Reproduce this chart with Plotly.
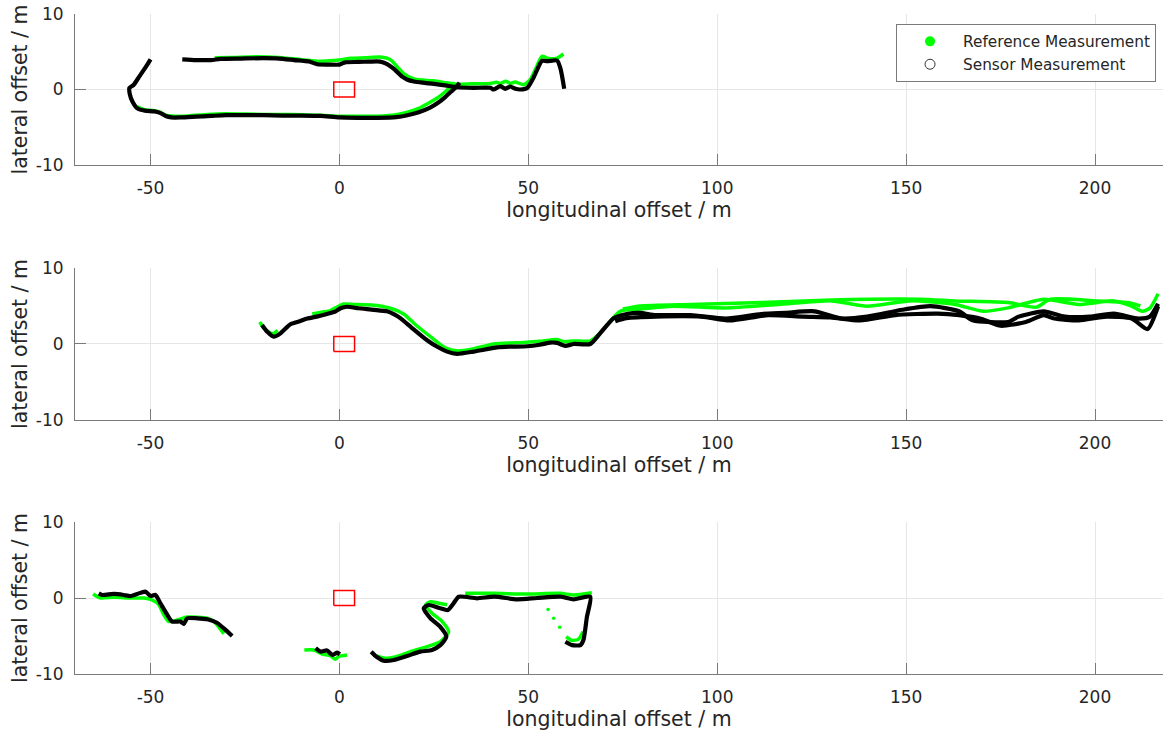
import plotly.graph_objects as go

# ---------------------------------------------------------------------------
# Track data: (longitudinal offset, lateral offset) in metres
# ---------------------------------------------------------------------------

# Panel 1
P1_SENSOR_LOWER = [(-50.0, 4.0), (-51.5, 2.8), (-53.0, 1.7), (-54.5, 0.6), (-55.6, 0.2), (-55.5, -0.6),
                   (-54.8, -1.6), (-53.5, -2.5), (-51.5, -2.8), (-49.0, -2.9), (-47.5, -3.1), (-46.0, -3.5),
                   (-44.5, -3.7), (-42.0, -3.7), (-38.0, -3.6), (-34.0, -3.5), (-30.0, -3.4), (-25.0, -3.4),
                   (-20.0, -3.4), (-15.0, -3.45), (-10.0, -3.45), (-5.0, -3.5), (0.0, -3.7), (5.0, -3.75),
                   (10.0, -3.75), (15.0, -3.65), (18.0, -3.4), (21.0, -3.0), (24.0, -2.4), (26.0, -1.8),
                   (28.0, -1.0), (29.5, -0.3), (31.0, 0.4), (31.8, 0.9)]
P1_SENSOR_UPPER = [(-41.6, 4.0), (-38.0, 3.9), (-34.0, 3.9), (-31.5, 4.05), (-26.0, 4.1), (-20.0, 4.15),
                   (-16.0, 4.1), (-12.0, 3.9), (-8.0, 3.7), (-5.9, 3.35), (-3.0, 3.3), (0.0, 3.3), (1.5, 3.6),
                   (5.0, 3.65), (8.0, 3.7), (10.8, 3.7), (12.5, 3.4), (14.5, 2.7), (16.6, 1.7), (18.0, 1.3),
                   (19.7, 1.06), (22.0, 0.9), (25.0, 0.75), (28.0, 0.55), (31.1, 0.3), (35.5, 0.22),
                   (40.0, 0.22), (40.8, 0.0), (42.6, 0.44), (43.9, 0.09), (45.2, 0.4), (46.6, 0.09),
                   (47.9, 0.0), (49.7, 0.2), (51.4, 1.6), (53.6, 3.8), (55.0, 3.75), (57.6, 3.85),
                   (58.5, 2.8), (59.5, 0.1)]
P1_REF_LOWER = [(-53.5, -2.3), (-51.5, -2.7), (-49.0, -2.8), (-47.5, -3.0), (-46.0, -3.4), (-44.5, -3.5),
                (-40.0, -3.5), (-35.0, -3.3), (-30.0, -3.2), (-25.0, -3.25), (-20.0, -3.3), (-15.0, -3.3),
                (-10.0, -3.35), (-5.0, -3.4), (0.0, -3.55), (5.0, -3.55), (10.0, -3.55), (15.0, -3.35),
                (18.0, -3.0), (21.0, -2.5), (24.0, -1.7), (26.0, -1.1), (28.0, -0.3), (29.5, 0.4),
                (30.5, 0.9)]
P1_REF_UPPER = [(-33.0, 4.2), (-28.0, 4.25), (-22.0, 4.35), (-16.0, 4.25), (-10.0, 3.95), (-5.0, 3.75),
                (0.0, 3.9), (3.0, 4.15), (7.0, 4.2), (10.8, 4.3), (13.5, 3.95), (15.5, 2.9), (17.0, 2.1),
                (19.7, 1.4), (22.0, 1.25), (25.0, 1.15), (28.0, 0.9), (31.1, 0.7), (35.0, 0.75),
                (40.0, 0.8), (41.5, 0.95), (42.6, 0.8), (44.0, 1.1), (45.3, 0.8), (46.5, 1.0),
                (48.8, 0.62), (50.5, 1.3), (52.0, 2.8), (53.6, 4.4), (55.4, 4.1), (57.6, 4.15),
                (59.3, 4.7)]

# Panel 2
P2_SENSOR_OUT = [(-20.5, 2.5), (-19.1, 1.6), (-17.4, 0.96), (-15.6, 1.4), (-13.0, 2.6), (-10.5, 3.0),
                 (-8.5, 3.35), (-6.0, 3.6), (-3.3, 3.95), (-1.0, 4.3), (0.3, 4.7), (2.0, 4.9), (5.0, 4.7),
                 (9.1, 4.5), (12.6, 4.3), (14.5, 3.9), (16.1, 3.4), (19.0, 2.2), (23.2, 0.5), (26.0, -0.4),
                 (28.5, -1.0), (31.1, -1.3), (35.5, -1.0), (41.7, -0.45), (45.0, -0.35), (49.7, -0.3),
                 (53.0, -0.1), (55.8, 0.18), (57.6, 0.15), (59.8, -0.25), (62.0, 0.0), (66.4, 0.0),
                 (69.0, 1.4), (72.6, 3.4), (76.1, 3.95), (79.6, 4.1), (83.7, 3.8), (93.0, 3.8),
                 (102.3, 3.35), (111.6, 3.95), (118.0, 4.1), (125.7, 4.3), (133.1, 3.35), (139.7, 3.6),
                 (149.0, 4.5), (156.5, 4.97), (164.0, 4.3), (167.6, 3.12), (177.0, 2.9), (179.8, 3.6),
                 (186.4, 4.3), (192.0, 3.6), (198.6, 3.6), (205.0, 4.0), (211.5, 3.35), (214.5, 3.6),
                 (216.7, 5.3)]
P2_SENSOR_BACK = [(216.7, 4.97), (213.9, 1.96), (209.7, 3.35), (203.0, 3.6), (195.7, 3.1), (189.2, 3.35),
                  (186.4, 3.8), (181.7, 2.9), (175.0, 2.4), (170.0, 3.3), (164.0, 3.8), (158.3, 4.0),
                  (147.1, 3.8), (137.8, 3.1), (130.0, 3.5), (122.8, 3.6), (113.5, 3.8), (103.3, 3.1),
                  (95.9, 3.6), (83.7, 3.6), (76.0, 3.4), (73.0, 3.0)]
P2_REF_START = [(-21.1, 2.9), (-20.0, 2.1), (-18.5, 1.5), (-17.4, 1.4), (-16.4, 1.8)]
P2_REF_OUT = [(-7.2, 3.95), (-4.5, 4.2), (-2.4, 4.4), (-0.5, 4.9), (1.1, 5.25), (4.0, 5.2), (9.1, 5.1),
              (13.5, 4.7), (17.0, 3.95), (20.0, 2.6), (24.1, 0.96), (28.0, -0.5), (31.1, -0.9),
              (35.0, -0.7), (40.8, 0.0), (48.8, 0.2), (53.0, 0.35), (57.6, 0.6), (59.4, 0.3), (62.0, 0.4),
              (66.4, 0.4), (68.5, 1.2), (70.8, 2.5), (74.3, 4.3), (79.6, 4.6), (88.3, 4.97),
              (102.3, 4.75), (116.3, 5.2), (130.3, 5.67), (139.7, 4.97), (150.9, 5.67), (163.0, 5.2),
              (170.5, 4.3), (177.0, 4.75), (186.4, 5.9), (195.7, 5.2), (205.0, 5.67), (209.7, 4.97),
              (212.5, 4.3), (214.6, 4.75), (216.7, 6.6)]
P2_REF_BACK = [(212.0, 5.0), (208.8, 5.45), (200.4, 5.67), (188.2, 5.9), (184.5, 4.85), (177.0, 5.45),
               (163.0, 5.67), (153.7, 5.9), (130.3, 5.8), (111.6, 5.45), (93.0, 5.2), (79.6, 5.0),
               (75.0, 4.6)]

# Panel 3
P3_SENSOR_A = [(-63.7, 0.6), (-62.8, 0.4), (-59.7, 0.53), (-57.1, 0.4), (-55.3, 0.26), (-52.6, 0.7),
               (-51.3, 0.83), (-50.0, 0.26), (-48.7, 0.4), (-47.4, -0.7), (-45.6, -2.2), (-44.3, -3.1),
               (-42.1, -3.1), (-41.2, -3.4), (-40.3, -2.67), (-37.6, -2.67), (-35.0, -2.8),
               (-32.4, -3.25), (-30.6, -4.0), (-28.4, -5.0)]
P3_SENSOR_B = [(-6.3, -6.6), (-5.0, -7.06), (-3.3, -6.9), (-1.9, -7.5), (-0.6, -7.2), (0.1, -7.4)]
P3_SENSOR_C = [(8.4, -7.06), (10.0, -7.8), (11.7, -8.25), (14.4, -8.16), (17.9, -7.63), (21.4, -7.06),
               (24.5, -6.84), (26.7, -6.2), (28.3, -5.1), (26.7, -3.8), (24.1, -2.67), (22.3, -1.36),
               (23.6, -0.92), (26.7, -1.36), (28.7, -1.58), (30.2, -0.7), (31.6, 0.17), (36.4, -0.04),
               (41.0, 0.17), (47.0, -0.17), (52.3, 0.0), (58.5, 0.17), (62.0, -0.17), (66.4, 0.17),
               (65.5, -2.5), (64.6, -5.5), (63.8, -6.2), (61.6, -6.2), (59.8, -5.75)]
P3_REF_A = [(-65.2, 0.53), (-63.3, 0.0), (-59.7, 0.1), (-55.3, 0.0), (-51.8, 0.0), (-49.6, -0.26),
            (-47.8, -0.9), (-46.5, -2.2), (-45.2, -3.1), (-42.9, -2.9), (-40.3, -2.5), (-35.0, -2.67),
            (-33.2, -3.1), (-30.6, -4.7)]
P3_REF_B = [(-9.3, -6.84), (-6.8, -6.84), (-4.6, -7.37), (-2.4, -7.6), (-1.1, -8.07), (-0.2, -7.7),
            (2.0, -7.5)]
P3_REF_C = [(9.0, -7.5), (11.7, -7.9), (14.4, -7.8), (18.8, -7.06), (23.2, -6.4), (26.7, -5.75),
            (28.9, -4.43), (27.2, -3.1), (24.5, -2.0), (22.8, -0.92), (24.1, -0.48), (26.3, -0.7),
            (28.5, -0.9)]
P3_REF_D = [(33.3, 0.61), (41.0, 0.61), (49.7, 0.53), (58.5, 0.61), (62.0, 0.4), (66.8, 0.7)]
P3_REF_E = [(60.0, -5.1), (61.6, -5.6), (63.3, -5.4), (64.5, -4.4)]
P3_REF_DOTS = [(55.2, -1.5), (56.7, -2.67), (58.3, -3.86)]

PANELS = [
    {"ref": [P1_REF_LOWER, P1_REF_UPPER], "sensor": [P1_SENSOR_LOWER, P1_SENSOR_UPPER], "dots": []},
    {"ref": [P2_REF_START, P2_REF_OUT, P2_REF_BACK], "sensor": [P2_SENSOR_OUT, P2_SENSOR_BACK], "dots": []},
    {"ref": [P3_REF_A, P3_REF_B, P3_REF_C, P3_REF_D, P3_REF_E],
     "sensor": [P3_SENSOR_A, P3_SENSOR_B, P3_SENSOR_C], "dots": P3_REF_DOTS},
]

# ego vehicle outline
EGO_X = [-1.5, 4.0]
EGO_Y = [-1.0, 1.0]

X_TICKS = [-50, 0, 50, 100, 150, 200]
X_TICK_TEXT = ["-50", "0", "50", "100", "150", "200"]
Y_TICKS = [-10, 0, 10]
Y_TICK_TEXT = ["-10", "0", "10"]
X_RANGE = [-70, 218]
Y_RANGE = [-10, 10]

REF_COLOR = "#00ff00"
SENSOR_COLOR = "#000000"
TEXT_COLOR = "#262626"
AXIS_COLOR = "#7a7a7a"
GRID_COLOR = "#e6e6e6"
FONT = "DejaVu Sans"

DOMAINS = [[0.7712, 1.0], [0.3848, 0.6152], [0.0, 0.2303]]


def join_segments(segments):
    xs, ys = [], []
    for seg in segments:
        xs += [p[0] for p in seg] + [None]
        ys += [p[1] for p in seg] + [None]
    return xs, ys


fig = go.Figure()

for i, panel in enumerate(PANELS):
    sfx = "" if i == 0 else str(i + 1)
    xa, ya = "x" + sfx, "y" + sfx

    rx, ry = join_segments(panel["ref"])
    fig.add_trace(go.Scatter(x=rx, y=ry, xaxis=xa, yaxis=ya, mode="lines",
                             line=dict(color=REF_COLOR, width=3.5, shape="spline", smoothing=0.6),
                             showlegend=False, hoverinfo="skip"))
    sx, sy = join_segments(panel["sensor"])
    fig.add_trace(go.Scatter(x=sx, y=sy, xaxis=xa, yaxis=ya, mode="lines",
                             line=dict(color=SENSOR_COLOR, width=4.2, shape="spline", smoothing=0.6),
                             showlegend=False, hoverinfo="skip"))
    if panel["dots"]:
        fig.add_trace(go.Scatter(x=[p[0] for p in panel["dots"]], y=[p[1] for p in panel["dots"]],
                                 xaxis=xa, yaxis=ya, mode="markers",
                                 marker=dict(color=REF_COLOR, size=3.5),
                                 showlegend=False, hoverinfo="skip"))
    # ego vehicle box
    fig.add_trace(go.Scatter(x=[EGO_X[0], EGO_X[1], EGO_X[1], EGO_X[0], EGO_X[0]],
                             y=[EGO_Y[0], EGO_Y[0], EGO_Y[1], EGO_Y[1], EGO_Y[0]],
                             xaxis=xa, yaxis=ya, mode="lines",
                             line=dict(color="#ff0000", width=1.5),
                             showlegend=False, hoverinfo="skip"))

    axis_common = dict(showline=True, linecolor=AXIS_COLOR, linewidth=1, mirror=False,
                       ticks="inside", ticklen=11, tickcolor=AXIS_COLOR, tickwidth=1,
                       showgrid=True, gridcolor=GRID_COLOR, gridwidth=1, zeroline=False,
                       tickfont=dict(family=FONT, size=17, color=TEXT_COLOR))
    fig.update_layout(**{
        "xaxis" + sfx: dict(axis_common, range=X_RANGE, tickvals=X_TICKS, ticktext=X_TICK_TEXT,
                            anchor=ya, ticklabelstandoff=8,
                            title=dict(text="longitudinal offset / m", standoff=4,
                                       font=dict(family=FONT, size=20.5, color=TEXT_COLOR))),
        "yaxis" + sfx: dict(axis_common, range=Y_RANGE, tickvals=Y_TICKS, ticktext=Y_TICK_TEXT,
                            domain=DOMAINS[i], anchor=xa, ticklabelstandoff=7,
                            title=dict(text="lateral offset / m", standoff=2,
                                       font=dict(family=FONT, size=20.5, color=TEXT_COLOR))),
    })

# legend entries
fig.add_trace(go.Scatter(x=[None], y=[None], mode="markers", name="Reference Measurement",
                         marker=dict(color=REF_COLOR, size=10, symbol="circle")))
fig.add_trace(go.Scatter(x=[None], y=[None], mode="markers", name="Sensor Measurement",
                         marker=dict(color="#333333", size=10, symbol="circle-open",
                                     line=dict(width=1))))

fig.update_layout(
    width=1165, height=735,
    margin=dict(l=75, r=2, t=14, b=61),
    paper_bgcolor="white", plot_bgcolor="white",
    font=dict(family=FONT, color=TEXT_COLOR),
    legend=dict(x=0.9936, y=0.985, xanchor="right", yanchor="top",
                bgcolor="white", bordercolor=AXIS_COLOR, borderwidth=1,
                font=dict(family=FONT, size=15.3, color=TEXT_COLOR),
                itemwidth=56, tracegroupgap=0),
)

fig.write_html("out.html")
